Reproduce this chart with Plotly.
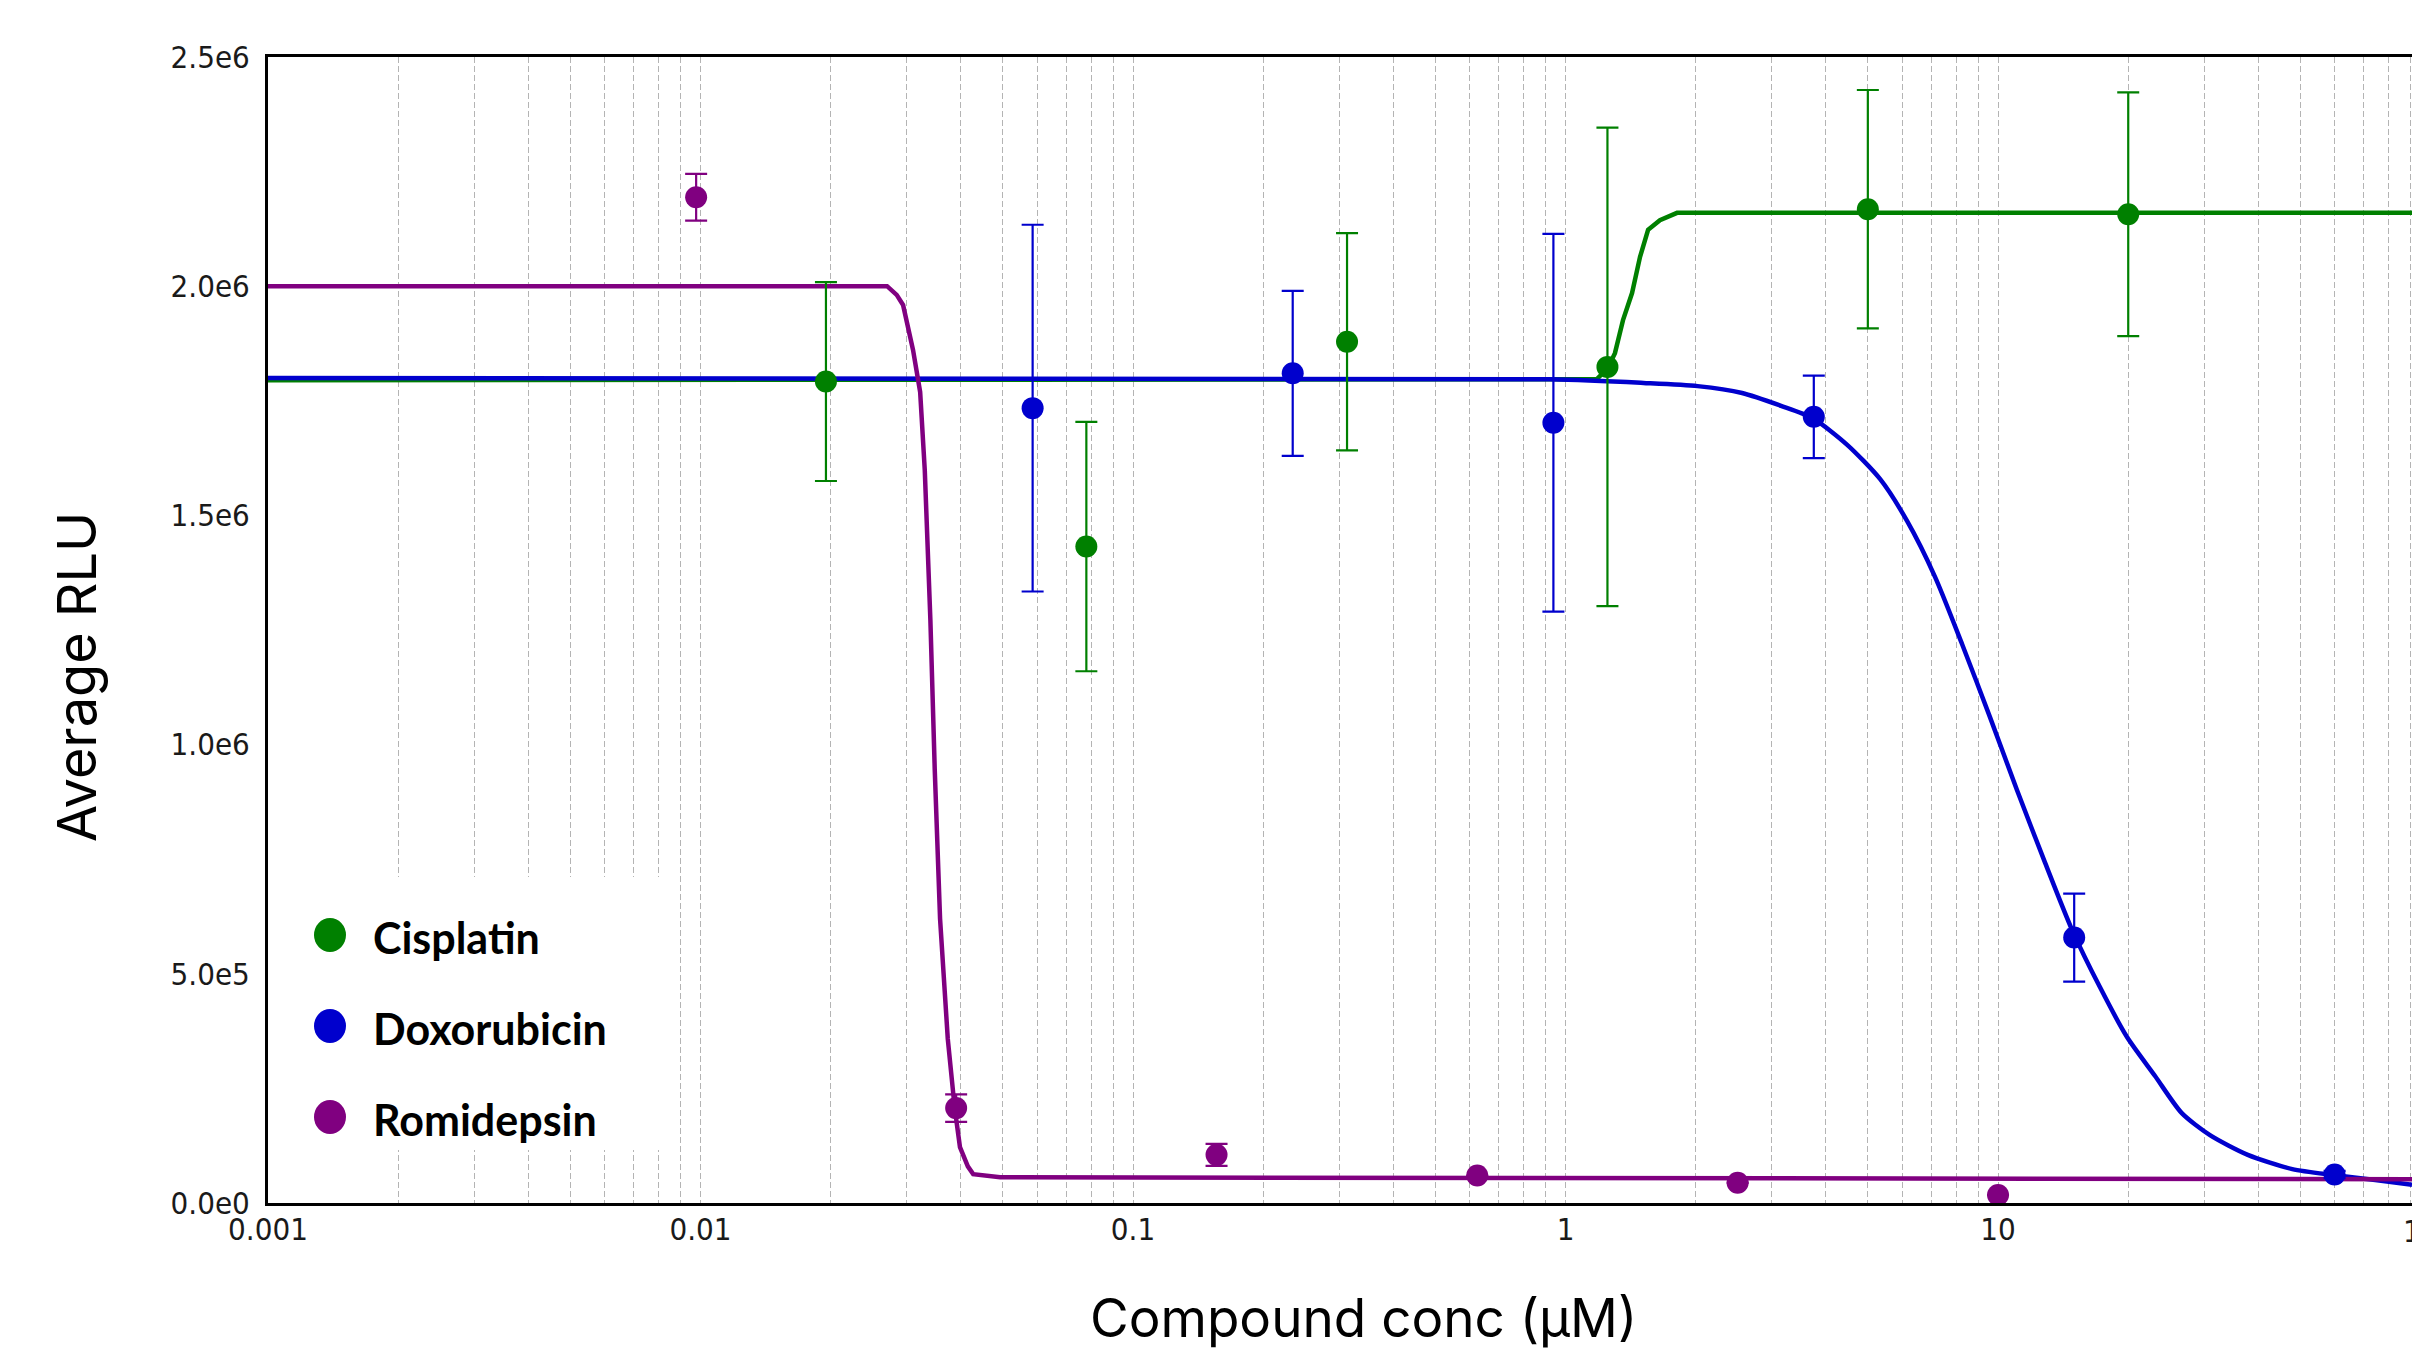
import math
import plotly.graph_objects as go

# ---------------- data ----------------
series_names = ["Cisplatin", "Doxorubicin", "Romidepsin"]
series_colors = ["#008000", "#0000CD", "#800080"]

cis_conc = [0.0195, 0.078, 0.3125, 1.25, 5.0, 20.0]
cis_mean = [1.792e6, 1.432e6, 1.879e6, 1.824e6, 2.168e6, 2.157e6]
cis_err = [0.217e6, 0.272e6, 0.237e6, 0.522e6, 0.260e6, 0.266e6]

dox_conc = [0.0586, 0.234, 0.9375, 3.75, 15.0, 60.0]
dox_mean = [1.734e6, 1.810e6, 1.702e6, 1.715e6, 0.579e6, 0.062e6]
dox_err = [0.400e6, 0.180e6, 0.412e6, 0.090e6, 0.096e6, 0.008e6]

rom_conc = [0.00977, 0.039, 0.156, 0.625, 2.5, 10.0]
rom_mean = [2.194e6, 0.207e6, 0.105e6, 0.060e6, 0.044e6, 0.0175e6]
rom_err = [0.051e6, 0.030e6, 0.024e6, 0.0, 0.0, 0.0]

# fitted curves, points
cis_fit_x = [0.001, 1.18, 1.25, 1.301, 1.358, 1.425, 1.487, 1.552, 1.653, 1.811, 90.6]
cis_fit_y = [1.795e6, 1.797e6, 1.82e6, 1.854e6, 1.926e6, 1.985e6, 2.064e6, 2.123e6,
             2.144e6, 2.160e6, 2.160e6]

dox_fit_x = [0.001, 0.92, 1.514, 2.02, 2.56, 3.15, 3.73, 4.48, 5.34, 6.16, 7.15, 8.26,
             9.58, 11.06, 12.85, 14.83, 17.2, 19.87, 23.07, 26.6, 30.9, 37.8, 47.9,
             59.6, 74.5, 90.6]
dox_fit_y = [1.800e6, 1.797e6, 1.789e6, 1.782e6, 1.767e6, 1.739e6, 1.712e6, 1.654e6,
             1.579e6, 1.488e6, 1.366e6, 1.219e6, 1.060e6, 0.901e6, 0.742e6, 0.596e6,
             0.471e6, 0.362e6, 0.277e6, 0.196e6, 0.148e6, 0.105e6, 0.074e6, 0.061e6,
             0.050e6, 0.040e6]

rom_fit_x = [0.001, 0.0270, 0.02842, 0.0294, 0.0310, 0.0322, 0.0330, 0.0340, 0.0348,
             0.0358, 0.0373, 0.0387, 0.0398, 0.0415, 0.0427, 0.0493, 90.6]
rom_fit_y = [2.000e6, 2.000e6, 1.981e6, 1.959e6, 1.861e6, 1.769e6, 1.599e6, 1.272e6,
             0.945e6, 0.620e6, 0.358e6, 0.207e6, 0.122e6, 0.080e6, 0.063e6, 0.056e6,
             0.052e6]

y_tickvals = [0, 5e5, 1e6, 1.5e6, 2e6, 2.5e6]
y_ticktext = ["0.0e0", "5.0e5", "1.0e6", "1.5e6", "2.0e6", "2.5e6"]
x_decades = [0.001, 0.01, 0.1, 1, 10]
x_decade_text = ["0.001", "0.01", "0.1", "1", "10"]

x_title = "Compound conc (µM)"
y_title = "Average RLU"

# ---------------- figure ----------------
W, H = 2412, 1354
L, R, T, B = 268, 0, 57, 151
x_max = 90.6

tick_font = dict(family="Liberation Sans Narrow, Arial Narrow, DejaVu Sans Condensed, sans-serif",
                 size=31, color="#1a1a1a")

fig = go.Figure()

fits = [(cis_fit_x, cis_fit_y, "linear"), (dox_fit_x, dox_fit_y, "spline"),
        (rom_fit_x, rom_fit_y, "linear")]
for (fx, fy, shp), name, col in zip(fits, series_names, series_colors):
    fig.add_trace(go.Scatter(x=fx, y=fy, mode="lines", name=name + " fit",
                             line=dict(color=col, width=4.5, shape=shp, smoothing=0.7),
                             showlegend=False, hoverinfo="skip"))

pts = [(cis_conc, cis_mean, cis_err), (dox_conc, dox_mean, dox_err),
       (rom_conc, rom_mean, rom_err)]
for (px, py, pe), name, col in zip(pts, series_names, series_colors):
    fig.add_trace(go.Scatter(x=px, y=py, mode="markers", name=name,
                             marker=dict(color=col, size=22, line=dict(width=0)),
                             error_y=dict(type="data", array=pe, visible=True,
                                          color=col, thickness=2.2, width=11),
                             showlegend=False))

# tick values: decades labelled, minor positions as gridlines only
x_tickvals, x_ticktext = [], []
for d, lab in zip(x_decades, x_decade_text):
    for m in range(1, 10):
        v = m * d
        if v <= x_max:
            x_tickvals.append(v)
            x_ticktext.append(lab if m == 1 else "")

fig.update_xaxes(type="log", range=[-3, math.log10(x_max)],
                 tickvals=x_tickvals, ticktext=x_ticktext, ticks="",
                 tickfont=tick_font, showgrid=True, gridcolor="#b4b4b4",
                 gridwidth=1, griddash="6px,3px", showline=True, mirror=True,
                 linecolor="black", linewidth=3, zeroline=False,
                 ticklabelstandoff=-3)
fig.update_yaxes(range=[0, 2.5e6], tickvals=y_tickvals, ticktext=y_ticktext,
                 ticks="", tickfont=tick_font, showgrid=False, showline=True,
                 mirror=False, linecolor="black", linewidth=3, zeroline=False,
                 ticklabelstandoff=9)

plot_w = W - L - R
plot_h = H - T - B

def px2paper_x(px):
    return (px - L) / plot_w

def px2paper_y(py):
    return (H - B - py) / plot_h

# legend box (manual, to get large markers)
shapes = [dict(type="rect", xref="paper", yref="paper",
               x0=px2paper_x(282), x1=px2paper_x(661),
               y0=px2paper_y(1150), y1=px2paper_y(877),
               fillcolor="white", line=dict(width=0), layer="above")]
annotations = []
row_y = [935, 1026, 1117]
for name, col, ry in zip(series_names, series_colors, row_y):
    shapes.append(dict(type="circle", xref="paper", yref="paper",
                       xsizemode="pixel", ysizemode="pixel",
                       xanchor=px2paper_x(330), yanchor=px2paper_y(ry),
                       x0=-16, x1=16, y0=-17, y1=17,
                       fillcolor=col, line=dict(width=0), layer="above"))
    annotations.append(dict(text=name, xref="paper", yref="paper",
                            x=px2paper_x(371), y=px2paper_y(ry + 2),
                            xanchor="left", yanchor="middle", showarrow=False,
                            font=dict(family="Lato, Open Sans, sans-serif", size=43,
                                      color="black", weight="bold")))

# axis titles
annotations.append(dict(text=x_title, xref="paper", yref="paper",
                        x=px2paper_x(1363), y=px2paper_y(1318),
                        xanchor="center", yanchor="middle", showarrow=False,
                        font=dict(family="Inter, Lato, sans-serif", size=53, color="black")))
annotations.append(dict(text=y_title, xref="paper", yref="paper",
                        x=px2paper_x(77), y=px2paper_y(677), textangle=-90,
                        xanchor="center", yanchor="middle", showarrow=False,
                        font=dict(family="Inter, Lato, sans-serif", size=54, color="black")))
# the "100" tick label that is cut by the right edge, as in the reference
annotations.append(dict(text="100", xref="paper", yref="paper",
                        x=px2paper_x(2429), y=px2paper_y(1231),
                        xanchor="center", yanchor="middle", showarrow=False,
                        font=tick_font))

fig.update_layout(width=W, height=H, margin=dict(l=L, r=R, t=T, b=B, pad=0),
                  paper_bgcolor="white", plot_bgcolor="white",
                  showlegend=False, shapes=shapes, annotations=annotations)

fig.write_html("out.html", config={"displayModeBar": False},
               post_script="document.body.style.margin='0';document.body.style.overflow='hidden';")
